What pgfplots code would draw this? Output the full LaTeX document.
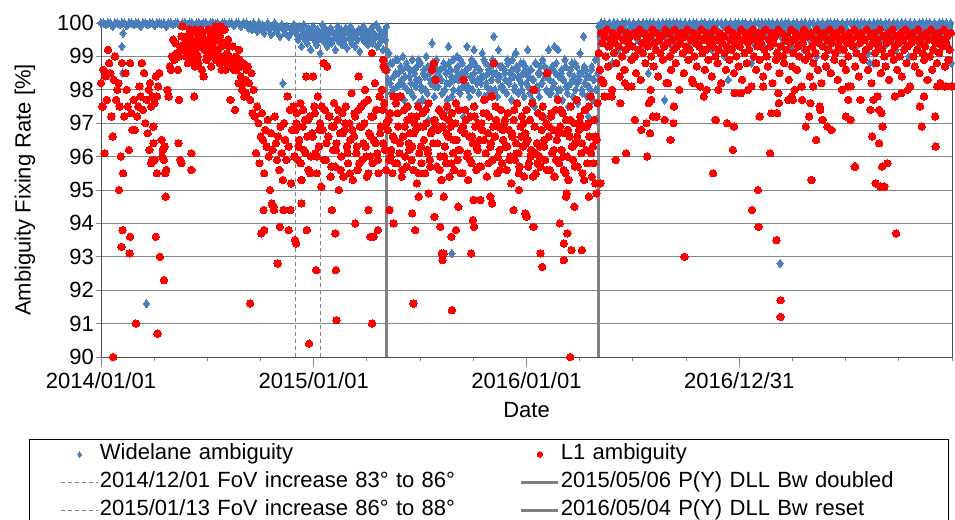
\documentclass[border=0pt]{standalone}
\usepackage{pgfplots}
\pgfplotsset{compat=1.18}
\usepackage{fontspec}
\setmainfont{Liberation Sans}
\definecolor{wl}{RGB}{74,126,187}
\definecolor{gridc}{RGB}{134,134,134}
\definecolor{evt}{RGB}{128,128,128}
\begin{document}
\begin{tikzpicture}
\begin{axis}[name=main, width=851pt, height=334pt, scale only axis,
 xmin=0, xmax=1460, ymin=90, ymax=100, clip=false,
 xtick={0,365,730,1095}, xticklabels={2014/01/01,2015/01/01,2016/01/01,2016/12/31},
 minor xtick={91.25,182.5,273.75,456.25,547.5,638.75,821.25,912.5,1003.75,1186.25,1277.5,1368.75,1460},
 extra x ticks={0,365,730,1095}, extra x tick labels={},
 extra x tick style={major tick length=10pt},
 ytick={90,91,...,100}, ymajorgrids, major grid style={gridc, line width=0.9pt},
 xtick pos=bottom, ytick pos=left, tick align=outside,
 major tick length=5pt, minor tick length=4pt,
 tick style={gridc, line width=0.9pt},
 axis line style={draw=black!70, line width=0.9pt},
 /pgf/number format/assume math mode=true,
 tick label style={font=\fontsize{22}{26}\selectfont, inner sep=2pt},
 xticklabel shift=8pt,
 label style={font=\fontsize{22}{26}\selectfont},
 xlabel={Date}, ylabel={Ambiguity Fixing Rate [\%]},
 xlabel style={at={(axis description cs:0.5,-0.159)}, anchor=center},
 ylabel style={at={(axis description cs:-0.0893,0.5)}, anchor=center},
 legend columns=2, legend cell align=left,
 legend image code/.code={\draw[mark repeat=2,mark phase=2,#1] plot coordinates {(0pt,0pt) (18.5pt,0pt) (37pt,0pt)};},
 legend image post style={mark size=2.7pt},
 legend style={at={(axis description cs:-0.0846,-0.2455)}, anchor=north west, draw=black, line width=0.8pt,
   inner xsep=31pt, inner ysep=1.5pt, row sep=1pt, font=\fontsize{22}{26}\selectfont,
   nodes={inner xsep=1pt, inner ysep=3pt, text height=16pt, text depth=5pt},
   /tikz/column 2/.style={nodes={text width=419pt}},
   /tikz/column 4/.style={nodes={text width=355pt}}},
]
% Widelane ambiguity
\addplot[only marks, mark=diamond*, mark size=4.2pt, mark options={fill=wl, draw=wl, line width=0pt}] coordinates {
(0,100)(4,100)(8,99.95)(12,100)(16,100)(20,99.9)(24,100)(28,100)(32,99.95)(36,100)(40,100)(44,99.92)(48,100)(52,100)(56,99.96)(60,100)(64,100)(68,99.9)(72,100)(76,100)(80,99.95)(84,100)(88,100)(92,99.93)(96,100)(100,100)(104,99.97)(108,100)(112,99.9)(116,100)(120,100)(124,99.95)(128,100)(132,100)(136,99.92)(140,100)(144,100)(148,99.96)(152,100)(156,100)(160,99.9)(164,100)(168,100)(172,99.95)(176,100)(180,100)(184,99.93)(188,100)(192,100)(196,99.97)(200,100)(204,99.9)(208,100)(212,100)(216,99.95)(220,100)(224,100)(228,99.92)(232,100)(236,100)(240,99.9)(244,100)(248,99.95)
(36,99.3)(38,99.7)(37,98.5)(78,91.6)(312,98.2)
(250,100)(253,99.85)(256,99.95)(259,99.8)(262,100)(265,99.9)(268,99.75)(271,100)(274,99.85)(277,99.95)(280,99.7)(283,99.9)(286,100)(289,99.8)(292,99.65)(295,99.9)(298,100)(301,99.75)(304,99.85)(307,99.6)(310,99.95)(313,99.8)(316,99.7)(319,99.9)(322,99.6)(325,99.85)(328,99.75)(331,99.95)(334,99.7)
(336,99.8)(338,99.5)(340,99.9)(342,99.6)(344,99.3)(346,99.75)(348,99.95)(350,99.5)(352,99.7)(354,99.4)(356,99.85)(358,99.6)(360,99.2)(362,99.75)(364,99.9)(366,99.5)(368,99.65)(370,99.35)(372,99.8)(374,99.55)(376,99.1)(378,99.7)(380,99.95)(382,99.45)(384,99.6)(386,99.8)(388,99.3)(390,99.65)(392,99.5)(394,99.85)(396,99.4)(398,99.7)(400,99.55)(402,99.2)(404,99.75)(406,99.9)(408,99.45)(410,99.6)(412,99.8)(414,99.35)(416,99.65)(418,99.5)(420,99.85)(422,99.25)(424,99.7)(426,99.55)(428,99.9)(430,99.4)(432,99.6)(434,99.75)(436,99.3)(438,99.65)(440,99.5)(442,99.8)(444,99.15)(446,99.7)(448,99.55)(450,99.9)(452,99.45)(454,99.6)(456,99.75)(458,99.35)(460,99.65)(462,99.5)(464,99.85)(466,99.4)(468,99.7)(470,99.55)(472,99.95)(474,99.3)(476,99.6)(478,99.8)(480,99.45)(482,99.65)(484,99.2)(486,99.75)(488,99.5)(490,99.9)
(492,98.6)(494,99.1)(496,98.2)(498,97.9)(500,98.8)(502,98.4)(504,97.6)(506,98.9)(508,98.1)(510,98.5)(512,97.8)(514,98.7)(516,98.3)(518,99.0)(520,97.7)(522,98.4)(524,98.8)(526,98.0)(528,97.5)(530,98.6)
(532,98.2)(534,98.9)(536,97.8)(538,98.5)(540,98.1)(542,98.7)(544,97.6)(546,98.3)(548,98.8)(550,98.0)(552,97.7)(554,98.6)(556,98.4)(558,99.0)(560,97.9)(562,97.1)(564,98.5)(566,98.2)(568,99.4)(570,98.7)
(572,97.8)(574,98.4)(576,98.9)(578,98.1)(580,97.4)(582,98.6)(584,98.3)(586,97.9)(588,98.8)(590,98.0)(592,98.5)(594,97.7)(596,99.3)(598,98.2)(600,98.6)(602,97.8)(604,98.9)(606,98.3)(608,97.6)(610,98.4)
(612,98.7)(614,98.0)(616,97.9)(618,98.5)(620,98.8)(622,97.2)(624,98.2)(626,98.6)(628,99.3)(630,98.1)(632,97.8)(634,98.4)(636,98.9)(638,98.0)(640,98.5)(642,97.5)(644,98.7)(646,98.3)(648,97.9)(650,98.6)
(652,98.2)(654,99.1)(656,98.4)(658,97.8)(660,98.8)(662,98.1)(664,98.5)(666,97.9)(668,98.7)(670,98.3)(672,98.9)(674,99.6)(676,98.0)(678,98.5)(680,97.8)(682,99.2)(684,98.4)(686,98.1)(688,98.7)(690,98.0)
(692,98.6)(694,98.3)(696,97.9)(698,98.8)(700,98.2)(702,98.5)(704,97.7)(706,98.9)(708,98.4)(710,98.1)(712,99.1)(714,98.6)(716,97.9)(718,98.3)(720,98.8)(722,98.0)(724,98.5)(726,97.8)(728,98.7)(730,98.2)
(732,99.2)(734,98.4)(736,97.9)(738,98.6)(740,97.7)(742,98.3)(744,97.5)(746,98.8)(748,98.1)(750,98.5)(752,97.8)(754,98.7)(756,98.2)(758,98.9)(760,97.2)(762,98.4)(764,98.0)(766,98.6)(768,99.2)(770,98.3)
(772,97.9)(774,98.7)(776,98.1)(778,99.3)(780,98.5)(782,97.8)(784,99.2)(786,98.4)(788,98.0)(790,98.6)(792,97.7)(794,98.3)(796,98.9)(798,98.1)(800,97.9)(802,97.5)(804,98.5)(806,98.2)(808,98.8)(810,97.8)
(812,98.4)(814,98.0)(816,98.7)(818,97.6)(820,98.3)(822,99.1)(824,98.5)(826,97.9)(828,99.6)(830,98.2)(832,98.6)(834,97.8)(836,97.2)(838,98.4)(840,98.0)(842,98.7)(844,97.7)(846,98.3)(848,98.9)(850,97.1)(852,98.5)
(493,98.3)(497,98.8)(501,98.0)(505,98.5)(509,98.9)(513,98.2)(517,98.6)(521,98.1)(525,98.7)(529,98.4)(533,97.9)(537,98.6)(541,98.3)(545,98.9)(549,98.1)(553,98.5)(557,98.0)(561,98.7)(565,98.3)(569,98.8)
(573,98.1)(577,98.6)(581,98.4)(585,97.9)(589,98.7)(593,98.2)(597,98.8)(601,98.4)(605,98.0)(609,98.6)(613,98.3)(617,98.9)(621,98.1)(625,98.5)(629,98.0)(633,98.7)(637,98.3)(641,98.8)(645,98.2)(649,98.6)
(653,98.4)(657,98.9)(661,98.2)(665,98.6)(669,98.0)(673,98.5)(677,98.8)(681,98.3)(685,98.7)(689,98.1)(693,98.5)(697,98.9)(701,98.3)(705,98.6)(709,98.0)(713,98.7)(717,98.4)(721,98.2)(725,98.8)(729,98.5)
(733,98.1)(737,98.6)(741,98.3)(745,98.8)(749,98.0)(753,98.5)(757,98.2)(761,98.7)(765,98.4)(769,97.9)(773,98.6)(777,98.2)(781,98.8)(785,98.0)(789,98.5)(793,98.3)(797,98.7)(801,98.1)(805,98.6)(809,98.3)
(813,98.8)(817,98.2)(821,98.5)(825,98.0)(829,98.7)(833,98.4)(837,98.1)(841,98.6)(845,98.3)(849,98.0)
(602,93.1)(551,97.7)(545,97.5)(579,97.4)(596,97.4)(642,97.5)(759,97.2)(802,97.5)(611,99.0)(640,99.2)(711,99.1)
(854,99.9)(856,99.6)(858,100)(860,99.75)(862,99.5)(864,100)(866,99.85)(868,99.3)(870,99.7)(872,100)(874,99.6)(876,99.9)(878,99.45)(880,100)(882,99.8)(884,99.65)(886,100)(888,99.2)(890,99.9)(892,99.7)
(894,100)(896,99.55)(898,99.85)(900,100)(902,99.4)(904,99.75)(906,100)(908,99.6)(910,99.9)(912,99.0)(914,100)(916,99.7)(918,99.85)(920,99.5)(922,100)(924,99.65)(926,99.9)(928,99.3)(930,100)(932,99.8)
(934,99.6)(936,100)(938,99.75)(940,99.45)(942,100)(944,99.9)(946,99.55)(948,100)(950,99.7)(952,99.2)(954,99.85)(956,100)(958,99.6)(960,99.9)(962,99.4)(964,100)(966,99.75)(968,99.65)(970,100)(972,99.5)
(974,99.9)(976,100)(978,99.7)(980,99.3)(982,100)(984,99.85)(986,99.6)(988,100)(990,99.45)(992,99.8)(994,100)(996,99.55)(998,99.9)(1000,99.1)(1002,100)(1004,99.7)(1006,99.85)(1008,99.6)(1010,100)(1012,99.4)
(1014,99.9)(1016,100)(1018,99.65)(1020,99.75)(1022,100)(1024,99.5)(1026,99.9)(1028,99.3)(1030,100)(1032,99.8)(1034,99.6)(1036,100)(1038,99.7)(1040,99.9)(1042,99.45)(1044,100)(1046,99.85)(1048,99.2)(1050,100)(1052,99.65)
(1054,99.9)(1056,99.55)(1058,100)(1060,99.75)(1062,99.4)(1064,100)(1066,99.6)(1068,99.9)(1070,99.0)(1072,100)(1074,99.7)(1076,99.85)(1078,99.5)(1080,100)(1082,99.65)(1084,99.9)(1086,99.3)(1088,100)(1090,99.8)(1092,99.6)
(1094,100)(1096,99.75)(1098,99.45)(1100,100)(1102,99.9)(1104,99.55)(1106,100)(1108,99.7)(1110,99.2)(1112,99.85)(1114,100)(1116,99.6)(1118,99.9)(1120,99.4)(1122,100)(1124,99.75)(1126,99.65)(1128,100)(1130,99.5)(1132,99.9)
(1134,100)(1136,99.7)(1138,99.3)(1140,100)(1142,99.85)(1144,99.6)(1146,100)(1148,99.45)(1150,99.8)(1152,100)(1154,99.55)(1156,99.9)(1158,99.1)(1160,100)(1162,99.7)(1164,99.85)(1166,99.6)(1168,100)(1170,99.4)(1172,99.9)
(1174,100)(1176,99.65)(1178,99.75)(1180,100)(1182,99.5)(1184,99.9)(1186,99.3)(1188,100)(1190,99.8)(1192,99.6)(1194,100)(1196,99.7)(1198,99.9)(1200,99.45)(1202,100)(1204,99.85)(1206,99.2)(1208,100)(1210,99.65)(1212,99.9)
(1214,99.55)(1216,100)(1218,99.75)(1220,99.4)(1222,100)(1224,99.6)(1226,99.9)(1228,99.0)(1230,100)(1232,99.7)(1234,99.85)(1236,99.5)(1238,100)(1240,99.65)(1242,99.9)(1244,99.3)(1246,100)(1248,99.8)(1250,99.6)(1252,100)
(1254,99.75)(1256,99.45)(1258,100)(1260,99.9)(1262,99.55)(1264,100)(1266,99.7)(1268,99.2)(1270,99.85)(1272,100)(1274,99.6)(1276,99.9)(1278,99.4)(1280,100)(1282,99.75)(1284,99.65)(1286,100)(1288,99.5)(1290,99.9)(1292,100)
(1294,99.7)(1296,99.3)(1298,100)(1300,99.85)(1302,99.6)(1304,100)(1306,99.45)(1308,99.8)(1310,100)(1312,99.55)(1314,99.9)(1316,99.1)(1318,100)(1320,99.7)(1322,99.85)(1324,99.6)(1326,100)(1328,99.4)(1330,99.9)(1332,100)
(1334,99.65)(1336,99.75)(1338,100)(1340,99.5)(1342,99.9)(1344,99.3)(1346,100)(1348,99.8)(1350,99.6)(1352,100)(1354,99.7)(1356,99.9)(1358,99.45)(1360,100)(1362,99.85)(1364,99.2)(1366,100)(1368,99.65)(1370,99.9)(1372,99.55)
(1374,100)(1376,99.75)(1378,99.4)(1380,100)(1382,99.6)(1384,99.9)(1386,99.0)(1388,100)(1390,99.7)(1392,99.85)(1394,99.5)(1396,100)(1398,99.65)(1400,99.9)(1402,99.3)(1404,100)(1406,99.8)(1408,99.6)(1410,100)(1412,99.75)
(1414,99.45)(1416,100)(1418,99.9)(1420,99.55)(1422,100)(1424,99.7)(1426,99.2)(1428,99.85)(1430,100)(1432,99.6)(1434,99.9)(1436,99.4)(1438,100)(1440,99.75)(1442,99.65)(1444,100)(1446,99.5)(1448,99.9)(1450,100)(1452,99.7)(1454,99.3)(1456,99.85)(1458,100)
(967,97.7)(939,98.5)(1076,98.3)(1165,92.8)(1319,98.8)(1116,98.8)(1459,98.8)(1325,98.8)(981,99.2)(877,98.8)
};
\addlegendentry{Widelane ambiguity}
% L1 ambiguity
\addplot[only marks, mark=*, mark size=3.7pt, mark options={fill=red, draw=red, line width=0pt}] coordinates {
(0,98.2)(2,97.5)(4,98.6)(6,96.1)(8,98.4)(10,97.7)(12,99.2)(14,98.8)(16,98.5)(18,97.2)(20,96.6)(22,98.3)(24,99.0)(26,97.7)(28,98.0)(30,98.2)(32,97.5)(34,96.0)(36,98.8)(38,95.5)(40,97.2)(42,98.5)(44,98.0)(46,97.5)(48,96.2)(50,98.8)(52,97.3)(54,96.8)
(21,90.0)(37,93.8)(35,93.3)(31,95.0)(50,93.6)(49,93.1)(60,91.0)(3,97.5)
(56,97.7)(58,96.8)(62,97.2)(64,97.5)(66,98.1)(68,97.8)(70,98.8)(72,97.4)(74,98.5)(76,97.0)(78,97.7)(80,96.7)(82,98.0)(84,98.2)(86,97.5)(88,97.8)(90,96.9)(92,97.6)(94,98.4)(96,97.8)(98,98.1)(100,98.5)
(97,90.7)(94,93.6)(101,93.0)(108,92.3)(111,94.8)
(83,96.2)(86,95.8)(88,95.9)(90,96.4)(104,96.5)(106,96.2)(108,95.9)(110,95.5)(112,95.6)(105,96.0)(109,96.3)(96,95.5)(92,95.9)
(114,98.0)(116,97.8)(118,98.7)(120,98.6)(122,99.0)(124,99.5)(126,98.9)(128,99.4)(130,99.1)(132,98.6)(134,99.0)(136,99.3)(138,99.6)(140,99.9)(142,99.2)(144,99.4)(146,99.0)
(133,96.4)(136,95.9)(138,95.8)(155,96.1)(155,95.6)(134,97.7)(160,97.8)
(148,99.6)(150,99.3)(152,99.5)(154,99.1)(156,99.7)(158,99.4)(160,99.2)(162,99.8)(164,99.5)(166,99.0)(168,99.6)(170,99.3)(172,99.4)(174,99.7)(176,98.4)(178,99.2)(180,99.5)(182,99.0)(184,99.8)(186,99.3)(188,99.6)(190,99.1)(192,99.4)(194,99.7)(196,99.2)(198,99.8)(200,99.5)(202,99.0)(204,99.6)(206,99.3)(208,99.8)(210,98.9)(212,99.4)(214,98.6)(216,99.1)(218,99.5)(220,99.0)(222,97.7)(224,98.8)(226,99.3)(228,98.6)(230,97.4)(232,99.0)(234,98.7)(236,98.2)(238,98.9)(240,98.4)(242,98.0)(244,98.8)(246,97.8)(248,98.3)(250,98.6)
(152,99.8)(171,99.8)(196,99.9)(205,99.9)(212,99.8)
(149,98.8)(153,99.2)(157,98.9)(161,98.7)(163,99.1)(167,98.8)(173,98.6)(177,99.3)(181,98.9)(185,99.0)(189,98.7)(193,99.1)(197,98.9)(201,99.2)(203,98.8)(207,98.6)(211,99.0)(215,98.8)(219,99.3)(223,98.7)(227,98.9)(233,98.6)(237,99.2)(241,98.7)(245,98.2)(249,97.9)
(252,98.7)(254,98.2)(256,97.7)(258,98.5)(260,97.3)(262,98.0)(264,97.2)(266,96.1)(268,97.5)(270,97.0)(272,95.8)(274,96.6)(276,97.3)(278,96.5)(280,95.5)(282,96.8)(284,96.3)(286,97.1)(288,96.0)(290,95.0)(292,96.7)(294,96.2)(296,94.5)(298,97.2)(300,96.4)(302,95.9)(304,96.6)(306,95.6)(308,96.9)(310,96.1)(312,95.3)(314,97.0)(316,96.5)(318,95.9)(320,97.8)(322,96.3)(324,97.4)(326,95.2)(328,96.8)(330,97.5)(332,96.0)
(256,91.6)(280,93.8)(303,92.8)(307,93.9)(322,93.8)(333,93.5)(279,94.4)(293,94.6)(297,94.4)(313,94.4)(325,94.4)(275,93.7)
(334,96.8)(336,97.3)(338,95.9)(340,96.5)(342,97.6)(344,95.3)(346,96.9)(348,96.2)(350,97.1)(352,98.4)(354,96.6)(356,95.6)(358,97.2)(360,96.0)(362,96.7)(364,98.4)(366,97.5)(368,96.1)
(370,95.5)(372,97.8)(374,96.3)(376,97.0)(378,95.1)(380,96.8)(382,98.8)(384,97.4)(386,95.9)(388,98.7)(390,96.6)(392,97.2)(394,95.4)(396,96.9)(398,96.2)(400,97.6)(402,95.7)(404,96.4)(406,97.1)(408,95.0)(410,96.7)(412,96.0)(414,97.3)(416,95.4)(418,96.8)(420,97.5)(422,96.3)(424,95.8)(426,97.0)(428,96.5)(430,97.9)(432,95.3)(434,96.6)(436,97.2)(438,96.1)(440,95.6)(442,97.4)(444,96.9)(446,97.5)(448,95.9)(450,96.4)(452,97.0)(454,96.3)(456,95.4)(458,97.7)(460,96.7)(462,96.0)(464,97.2)(466,95.8)(468,96.5)(470,98.2)(472,97.4)(474,96.1)(476,95.5)(478,97.8)(480,96.9)(482,98.0)(484,96.4)(486,97.6)(488,98.6)(490,97.0)
(465,99.1)(484,98.9)(485,98.7)(442,98.4)(453,98.0)
(335,97.0)(339,96.3)(343,95.8)(347,97.4)(351,96.1)(355,97.1)(359,95.5)(363,96.6)(367,97.3)(371,96.0)(375,96.8)(379,97.5)(383,95.9)(387,96.4)(391,97.2)(395,95.7)(399,96.9)(403,96.2)(407,97.4)(411,95.6)(415,96.7)(419,97.0)(423,96.1)(427,95.5)(431,96.8)(435,97.3)(439,96.3)(443,95.8)(447,96.9)(451,97.6)(455,96.0)(459,95.5)(463,96.6)(467,97.2)(471,96.4)(475,95.9)(479,96.7)(483,97.4)(487,96.2)(489,95.6)
(335,93.4)(344,94.6)(353,93.8)(357,90.4)(369,92.6)(396,94.4)(402,93.7)(403,92.6)(404,91.1)(436,94.0)(459,94.4)(462,93.6)(468,93.6)(475,93.8)(465,91.0)(495,94.4)(502,94.0)(534,94.3)(536,91.6)(539,93.8)(545,94.8)(562,94.9)(572,94.2)(582,93.9)(585,93.1)(588,93.1)(586,92.9)(588,94.8)(601,93.6)(602,91.4)(609,93.8)(613,94.5)(635,93.1)(638,94.1)(640,93.9)(639,94.7)(651,94.7)(668,94.8)(671,94.6)(708,94.4)(717,95.0)(728,94.3)
(730,94.2)(742,93.9)(754,93.1)(757,92.7)(787,94.0)(800,93.7)(794,93.4)(807,93.2)(794,92.9)(825,93.2)(812,94.5)(798,94.8)(799,94.9)(837,94.8)(850,94.9)(857,95.2)(805,90.0)
(571,98.8)(568,98.6)(574,98.3)(622,98.3)(674,98.8)(657,97.7)(671,97.8)(502,97.8)(514,97.8)(765,98.5)(743,98.0)
(492,96.8)(494,95.9)(496,97.3)(498,96.2)(500,95.5)(502,97.8)(504,96.5)(506,97.6)(508,95.8)(510,96.9)(512,96.1)(514,97.8)(516,95.4)(518,96.6)(520,97.4)(522,96.0)(524,95.7)(526,97.1)(528,96.4)(530,96.7)
(532,97.2)(534,96.3)(536,95.6)(538,97.0)(540,96.8)(542,95.2)(544,97.5)(546,96.1)(548,96.9)(550,95.8)(552,97.3)(554,96.5)(556,95.5)(558,97.0)(560,96.2)(562,97.6)(564,95.9)(566,96.7)(568,98.6)(570,96.4)
(572,97.1)(574,98.3)(576,95.7)(578,96.8)(580,97.4)(582,96.0)(584,95.3)(586,96.9)(588,97.2)(590,96.3)(592,95.8)(594,97.5)(596,96.6)(598,95.4)(600,96.9)(602,97.3)(604,96.1)(606,95.6)(608,97.0)(610,96.5)
(612,95.9)(614,97.4)(616,96.2)(618,96.8)(620,95.5)(622,98.3)(624,96.7)(626,97.1)(628,96.0)(630,95.3)(632,96.6)(634,97.2)(636,95.8)(638,96.4)(640,97.5)(642,96.9)(644,95.6)(646,96.2)(648,97.0)(650,96.5)
(652,95.7)(654,96.8)(656,97.3)(658,97.7)(660,96.1)(662,95.4)(664,96.7)(666,97.2)(668,96.3)(670,97.8)(672,95.9)(674,98.8)(676,96.6)(678,97.1)(680,95.5)(682,96.9)(684,96.2)(686,97.4)(688,95.8)(690,96.5)
(692,97.0)(694,96.3)(696,95.6)(698,97.3)(700,96.8)(702,96.0)(704,95.2)(706,96.6)(708,97.1)(710,95.9)(712,96.4)(714,97.6)(716,96.1)(718,95.7)(720,96.9)(722,97.2)(724,96.3)(726,95.4)(728,96.7)(730,97.4)
(732,96.5)(734,95.8)(736,97.1)(738,96.2)(740,97.6)(742,98.0)(744,96.9)(746,95.5)(748,96.4)(750,97.3)(752,96.0)(754,95.7)(756,96.8)(758,97.5)(760,96.3)(762,95.9)(764,97.0)(766,98.5)(768,96.6)(770,95.6)
(772,97.2)(774,96.1)(776,96.8)(778,95.4)(780,97.4)(782,96.5)(784,97.7)(786,95.8)(788,96.9)(790,96.2)(792,97.3)(794,95.6)(796,96.7)(798,97.1)(800,96.0)(802,95.3)(804,96.6)(806,97.5)(808,96.3)(810,95.9)
(812,97.0)(814,96.4)(816,97.7)(818,95.7)(820,96.8)(822,97.2)(824,96.1)(826,95.5)(828,96.9)(830,97.4)(832,96.2)(834,95.8)(836,97.0)(838,96.6)(840,97.8)(842,95.4)(844,96.3)(846,97.1)(848,95.2)(850,96.5)(852,97.6)
(493,97.1)(497,96.0)(501,96.6)(505,95.8)(509,97.3)(513,96.4)(517,95.6)(521,96.9)(525,97.5)(529,96.2)(533,95.9)(537,96.7)(541,97.2)(545,95.5)(549,96.3)(553,96.9)(557,97.4)(561,96.1)(565,95.7)(569,96.8)
(573,97.0)(577,96.4)(581,95.6)(585,97.3)(589,96.0)(593,96.7)(597,97.1)(601,95.8)(605,96.5)(609,97.6)(613,96.2)(617,95.5)(621,96.9)(625,97.4)(629,96.1)(633,95.9)(637,96.6)(641,97.2)(645,96.3)(649,95.7)
(653,97.0)(657,96.5)(661,97.3)(665,95.8)(669,96.4)(673,96.9)(677,97.5)(681,96.0)(685,95.6)(689,96.8)(693,97.1)(697,96.3)(701,95.9)(705,96.7)(709,97.4)(713,96.1)(717,95.5)(721,96.6)(725,97.0)(729,96.4)
(733,95.7)(737,96.0)(741,95.4)(745,96.1)(749,95.8)(753,96.3)(757,97.2)(761,96.5)(765,95.6)(769,96.9)(773,97.3)(777,96.2)(781,95.9)(785,96.7)(789,97.4)(793,96.0)(797,95.5)(801,96.8)(805,97.1)(809,96.3)
(813,95.7)(817,96.6)(821,97.0)(825,96.4)(829,95.3)(833,96.9)(837,97.5)(841,96.1)(845,95.8)(849,96.6)
(854,99.1)(856,98.6)(858,99.7)(860,99.4)(862,98.2)(864,99.6)(866,99.0)(868,99.8)(870,98.7)(872,99.3)(874,99.5)(876,97.8)(878,99.7)(880,99.1)(882,99.4)(884,98.8)(886,99.6)(888,99.3)(890,98.4)(892,99.8)
(894,99.0)(896,99.5)(898,98.6)(900,99.2)(902,99.7)(904,98.1)(906,99.4)(908,99.6)(910,98.9)(912,99.3)(914,99.7)(916,99.0)(918,98.5)(920,99.6)(922,99.2)(924,99.8)(926,98.3)(928,99.4)(930,99.1)(932,99.7)
(934,98.8)(936,99.5)(938,99.3)(940,97.6)(942,99.6)(944,99.0)(946,99.8)(948,98.7)(950,99.4)(952,99.2)(954,99.7)(956,98.4)(958,99.5)(960,99.1)(962,99.6)(964,98.9)(966,99.3)(968,99.8)(970,98.2)(972,99.4)
(974,99.7)(976,99.0)(978,98.6)(980,99.5)(982,99.2)(984,99.8)(986,98.8)(988,99.3)(990,99.6)(992,98.0)(994,99.4)(996,99.7)(998,99.1)(1000,98.5)(1002,99.6)(1004,99.3)(1006,99.8)(1008,98.9)(1010,99.2)(1012,99.5)
(1014,98.3)(1016,99.7)(1018,99.0)(1020,99.4)(1022,98.7)(1024,99.6)(1026,99.3)(1028,98.1)(1030,99.8)(1032,99.1)(1034,99.5)(1036,98.6)(1038,99.2)(1040,99.7)(1042,98.9)(1044,99.4)(1046,99.6)(1048,98.4)(1050,99.3)(1052,99.8)
(1054,99.0)(1056,99.5)(1058,98.8)(1060,99.2)(1062,99.7)(1064,98.2)(1066,99.4)(1068,99.6)(1070,99.1)(1072,98.6)(1074,99.3)(1076,99.8)(1078,98.9)(1080,99.5)(1082,99.2)(1084,99.7)(1086,98.5)(1088,99.4)(1090,99.0)(1092,99.6)
(1094,98.7)(1096,99.3)(1098,99.8)(1100,98.3)(1102,99.5)(1104,99.1)(1106,99.7)(1108,98.8)(1110,99.4)(1112,99.2)(1114,99.6)(1116,98.1)(1118,99.8)(1120,99.0)(1122,99.5)(1124,98.6)(1126,99.3)(1128,99.7)(1130,98.9)(1132,99.4)
(1134,99.6)(1136,98.4)(1138,99.2)(1140,99.8)(1142,99.0)(1144,98.7)(1146,99.5)(1148,99.3)(1150,99.7)(1152,98.2)(1154,99.4)(1156,99.6)(1158,98.9)(1160,99.1)(1162,99.8)(1164,98.5)(1166,99.3)(1168,99.7)(1170,99.0)(1172,98.8)
(1174,99.5)(1176,99.2)(1178,99.6)(1180,98.3)(1182,99.4)(1184,99.8)(1186,98.7)(1188,99.1)(1190,99.5)(1192,99.7)(1194,98.6)(1196,99.3)(1198,99.0)(1200,99.6)(1202,98.1)(1204,99.4)(1206,99.8)(1208,98.9)(1210,99.2)(1212,99.6)
(1214,99.0)(1216,98.4)(1218,99.7)(1220,99.3)(1222,98.8)(1224,99.5)(1226,99.1)(1228,99.8)(1230,98.6)(1232,99.4)(1234,99.6)(1236,98.2)(1238,99.3)(1240,99.7)(1242,99.0)(1244,98.7)(1246,99.5)(1248,99.2)(1250,99.8)(1252,98.5)
(1254,99.4)(1256,99.6)(1258,98.9)(1260,99.1)(1262,99.7)(1264,98.3)(1266,99.3)(1268,99.5)(1270,99.8)(1272,98.8)(1274,99.2)(1276,99.6)(1278,98.6)(1280,99.4)(1282,99.0)(1284,99.7)(1286,98.1)(1288,99.5)(1290,99.3)(1292,99.8)
(1294,98.7)(1296,99.1)(1298,99.6)(1300,98.4)(1302,99.4)(1304,99.7)(1306,99.0)(1308,98.9)(1310,99.5)(1312,99.2)(1314,99.8)(1316,98.6)(1318,99.3)(1320,99.6)(1322,98.2)(1324,99.4)(1326,99.7)(1328,99.1)(1330,98.8)(1332,99.5)
(1334,99.3)(1336,99.8)(1338,98.5)(1340,99.2)(1342,99.6)(1344,99.0)(1346,98.7)(1348,99.4)(1350,99.7)(1352,98.3)(1354,99.5)(1356,99.1)(1358,99.8)(1360,98.9)(1362,99.3)(1364,99.6)(1366,98.6)(1368,99.4)(1370,99.0)(1372,99.7)
(1374,98.4)(1376,99.5)(1378,99.2)(1380,99.8)(1382,98.8)(1384,99.3)(1386,99.6)(1388,98.1)(1390,99.4)(1392,99.7)(1394,99.0)(1396,98.7)(1398,99.5)(1400,99.2)(1402,99.8)(1404,98.5)(1406,99.4)(1408,99.6)(1410,99.1)(1412,98.9)
(1414,99.3)(1416,99.7)(1418,98.3)(1420,99.5)(1422,99.0)(1424,99.8)(1426,98.6)(1428,99.2)(1430,99.6)(1432,99.4)(1434,98.8)(1436,99.7)(1438,99.1)(1440,98.2)(1442,99.5)(1444,99.3)(1446,99.8)(1448,98.7)(1450,99.4)(1452,99.6)(1454,98.9)(1456,99.2)(1458,99.7)
(916,97.1)(967,97.1)(982,97.0)(927,96.8)(942,96.7)(977,96.5)(936,97.0)(947,97.2)(953,97.2)(901,96.1)(883,95.9)(937,96.0)(1050,95.5)(1054,97.1)(1074,97.0)(1086,96.9)(1084,96.2)(1001,93.0)(983,97.5)(891,97.6)(864,97.8)(973,98.2)(944,97.7)(943,98.0)(1016,98.2)(1039,98.0)(1059,98.0)(1034,97.8)(1087,97.9)(877,98.0)(859,98.3)(899,98.2)(910,98.1)
(1130,97.2)(1150,97.3)(1160,97.3)(1163,97.6)(1179,97.7)(1187,97.7)(1217,97.6)(1215,97.2)(1209,96.9)(1227,96.5)(1233,97.5)(1234,97.4)(1238,97.1)(1246,96.9)(1253,96.8)(1148,96.1)(1219,95.3)(1127,95.0)(1117,94.4)(1128,93.9)(1159,93.5)(1166,91.7)(1166,91.2)(1293,95.7)(1278,97.2)(1286,97.1)(1282,97.7)(1303,97.7)(1320,97.4)(1325,97.7)(1332,97.8)(1335,97.4)(1339,97.3)(1341,96.9)(1323,96.6)(1335,96.4)(1340,95.7)(1349,95.8)(1329,95.2)(1344,95.1)(1364,93.7)(1362,97.8)(1373,97.9)(1384,98.0)(1405,97.5)(1408,96.9)(1412,97.8)(1431,97.2)(1432,96.3)(1435,98.1)(1448,98.1)(1459,98.1)(1162,97.9)(1185,97.8)(1203,97.7)(1190,98.0)(1222,98.1)(1271,98.0)(1282,98.1)(1110,98.0)(1136,98.1)(1098,97.9)(1294,95.7)(1337,95.1)(1055,97.1)
};
\addlegendentry{L1 ambiguity}
\addplot[evt, line width=1.5pt, dash pattern=on 4pt off 3pt, mark=none] coordinates {(334,90) (334,100)};
\addlegendentry{2014/12/01 FoV increase 83° to 86°}
\addplot[evt, line width=3pt, mark=none] coordinates {(490,90) (490,100)};
\addlegendentry{2015/05/06 P(Y) DLL Bw doubled}
\addplot[evt, line width=1.5pt, dash pattern=on 4pt off 3pt, mark=none] coordinates {(377,90) (377,100)};
\addlegendentry{2015/01/13 FoV increase 86° to 88°}
\addplot[evt, line width=3pt, mark=none] coordinates {(853,90) (853,100)};
\addlegendentry{2016/05/04 P(Y) DLL Bw reset}
\end{axis}
\pgfresetboundingbox
\path ([shift={(-101pt,23pt)}]main.north west) rectangle ([shift={(854pt,-496pt)}]main.north west);
\end{tikzpicture}
\end{document}
